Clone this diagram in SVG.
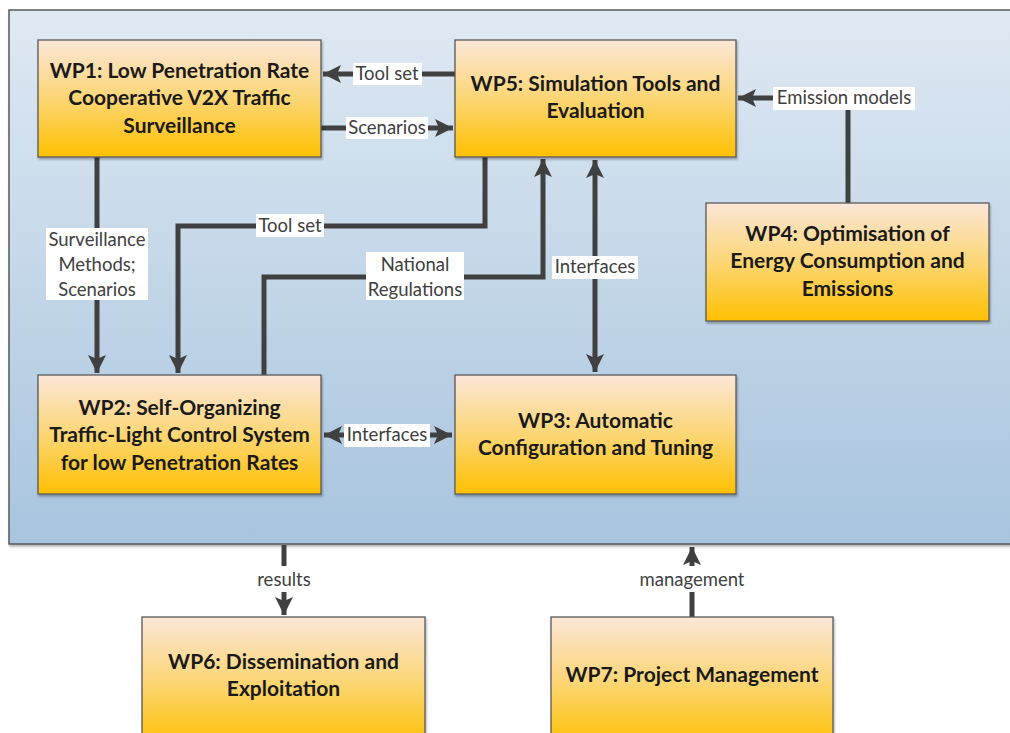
<svg xmlns="http://www.w3.org/2000/svg" width="1010" height="733" viewBox="0 0 1010 733">
<style>
.box{stroke:#595959;stroke-width:1.3;fill:url(#boxg)}
.t{font-family:Lato,"Liberation Sans",sans-serif;font-weight:bold;font-size:21px;fill:#1a1a1a;text-anchor:middle}
.l{font-family:Lato,"Liberation Sans",sans-serif;font-size:18.5px;fill:#404040;text-anchor:middle}
.c{fill:none;stroke:#404040;stroke-width:5;stroke-linejoin:miter}
.lb{fill:#ffffff}
</style>
<defs>
<linearGradient id="boxg" x1="0" y1="0" x2="0" y2="1">
<stop offset="0" stop-color="#fbe6d8"/>
<stop offset="0.5" stop-color="#fcd675"/>
<stop offset="1" stop-color="#ffc000"/>
</linearGradient>
<linearGradient id="bg" x1="0" y1="0" x2="0" y2="1">
<stop offset="0" stop-color="#dfe9f3"/>
<stop offset="1" stop-color="#a8c4de"/>
</linearGradient>
<filter id="sh" x="-5%" y="-5%" width="110%" height="115%">
<feDropShadow dx="1" dy="2" stdDeviation="1.2" flood-color="#000" flood-opacity="0.3"/>
</filter>
<marker id="ah" markerUnits="userSpaceOnUse" markerWidth="22" markerHeight="22" viewBox="0 0 22 22" refX="20" refY="11" orient="auto-start-reverse">
<path d="M2,2 L20,11 L2,20 L6,11 Z" fill="#404040"/>
</marker>
</defs>
<rect width="1010" height="733" fill="#ffffff"/>
<g id="container">
<rect x="9" y="10" width="1010" height="534" fill="url(#bg)" stroke="#595959" stroke-width="1.5" filter="url(#sh)"/>
</g>
<g id="connectors">
<path class="c" d="M455,74 L323,74" marker-end="url(#ah)"/>
<path class="c" d="M321,128 L453,128" marker-end="url(#ah)"/>
<path class="c" d="M848,203 L848,98 L738,98" marker-end="url(#ah)"/>
<path class="c" d="M97,157 L97,373" marker-end="url(#ah)"/>
<path class="c" d="M485,157 L485,226 L178,226 L178,373" marker-end="url(#ah)"/>
<path class="c" d="M264,375 L264,277 L543,277 L543,159" marker-end="url(#ah)"/>
<path class="c" d="M595,160 L595,372" marker-start="url(#ah)" marker-end="url(#ah)"/>
<path class="c" d="M324,435 L452,435" marker-start="url(#ah)" marker-end="url(#ah)"/>
<path class="c" d="M284,545 L284,615" marker-end="url(#ah)"/>
<path class="c" d="M692,617 L692,547" marker-end="url(#ah)"/>
<rect class="lb" x="353" y="63" width="69" height="22"/>
<text class="l" x="387" y="80">Tool set</text>
<rect class="lb" x="346" y="117" width="82" height="22"/>
<text class="l" x="387" y="134">Scenarios</text>
<rect class="lb" x="773" y="87" width="142" height="23"/>
<text class="l" x="844" y="104">Emission models</text>
<rect class="lb" x="46" y="228" width="102" height="72"/>
<text class="l" x="97" y="246">Surveillance</text>
<text class="l" x="97" y="271">Methods;</text>
<text class="l" x="97" y="296">Scenarios</text>
<rect class="lb" x="256" y="214" width="68" height="23"/>
<text class="l" x="290" y="232">Tool set</text>
<rect class="lb" x="366" y="252" width="98" height="48"/>
<text class="l" x="415" y="271">National</text>
<text class="l" x="415" y="296">Regulations</text>
<rect class="lb" x="552" y="256" width="86" height="23"/>
<text class="l" x="595" y="273">Interfaces</text>
<rect class="lb" x="344" y="424" width="86" height="23"/>
<text class="l" x="387" y="441">Interfaces</text>
<rect class="lb" x="240" y="566" width="88" height="26"/>
<text class="l" x="284" y="586">results</text>
<rect class="lb" x="630" y="566" width="124" height="26"/>
<text class="l" x="692" y="586">management</text>
</g>
<g id="wp1">
<rect class="box" x="38" y="40" width="283" height="117" filter="url(#sh)"/>
<text class="t" x="179.5" y="78">WP1: Low Penetration Rate</text>
<text class="t" x="179.5" y="105">Cooperative V2X Traffic</text>
<text class="t" x="179.5" y="133">Surveillance</text>
</g>
<g id="wp5">
<rect class="box" x="455" y="40" width="281" height="117" filter="url(#sh)"/>
<text class="t" x="595.5" y="91">WP5: Simulation Tools and</text>
<text class="t" x="595.5" y="118">Evaluation</text>
</g>
<g id="wp4">
<rect class="box" x="706" y="203" width="283" height="118" filter="url(#sh)"/>
<text class="t" x="847.5" y="241">WP4: Optimisation of</text>
<text class="t" x="847.5" y="268">Energy Consumption and</text>
<text class="t" x="847.5" y="296">Emissions</text>
</g>
<g id="wp2">
<rect class="box" x="38" y="375" width="283" height="119" filter="url(#sh)"/>
<text class="t" x="179.5" y="415">WP2: Self-Organizing</text>
<text class="t" x="179.5" y="442">Traffic-Light Control System</text>
<text class="t" x="179.5" y="470">for low Penetration Rates</text>
</g>
<g id="wp3">
<rect class="box" x="455" y="375" width="281" height="119" filter="url(#sh)"/>
<text class="t" x="595.5" y="428">WP3: Automatic</text>
<text class="t" x="595.5" y="455">Configuration and Tuning</text>
</g>
<g id="wp6">
<rect class="box" x="142" y="617" width="283" height="130" filter="url(#sh)"/>
<text class="t" x="283.5" y="669">WP6: Dissemination and</text>
<text class="t" x="283.5" y="696">Exploitation</text>
</g>
<g id="wp7">
<rect class="box" x="551" y="617" width="282" height="130" filter="url(#sh)"/>
<text class="t" x="692" y="682">WP7: Project Management</text>
</g>
</svg>
